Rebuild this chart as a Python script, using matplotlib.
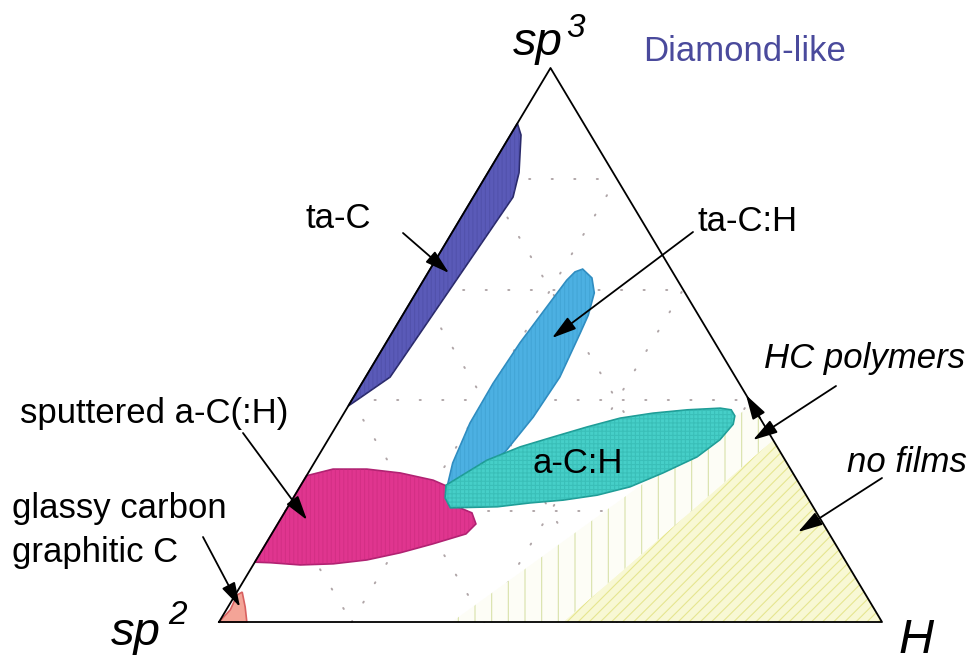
import numpy as np
import matplotlib.pyplot as plt
from matplotlib.patches import Polygon

plt.rcParams['font.family'] = ['Liberation Sans', 'DejaVu Sans']
plt.rcParams['hatch.linewidth'] = 0.8

# region outlines as ternary compositions (sp3 fraction, H fraction)
ta_c_sp3 = [0.90, 0.879, 0.811, 0.767, 0.442, 0.401, 0.39]
ta_c_h = [0.0, 0.016, 0.047, 0.060, 0.037, 0.008, 0.0]

ta_ch_sp3 = [0.637, 0.621, 0.594, 0.554, 0.522, 0.442, 0.370, 0.307, 0.265, 0.244,
             0.287, 0.359, 0.431, 0.504, 0.569, 0.617, 0.632]
ta_ch_h = [0.230, 0.252, 0.269, 0.280, 0.284, 0.293, 0.289, 0.278, 0.253, 0.222,
           0.209, 0.199, 0.198, 0.202, 0.210, 0.216, 0.221]

a_ch_sp3 = [0.247, 0.292, 0.316, 0.334, 0.352, 0.368, 0.377, 0.383, 0.386, 0.383,
            0.372, 0.357, 0.329, 0.298, 0.269, 0.244, 0.229, 0.220, 0.215, 0.208,
            0.206, 0.224]
a_ch_h = [0.219, 0.258, 0.296, 0.337, 0.379, 0.421, 0.466, 0.515, 0.563, 0.581,
          0.592, 0.597, 0.591, 0.572, 0.535, 0.498, 0.456, 0.409, 0.362, 0.316,
          0.246, 0.229]

sput_sp3 = [0.108, 0.264, 0.276, 0.276, 0.269, 0.256, 0.244, 0.215, 0.197, 0.177,
            0.159, 0.141, 0.125, 0.112, 0.105, 0.103, 0.107]
sput_h = [0.0, 0.0, 0.034, 0.085, 0.139, 0.195, 0.224, 0.238, 0.283, 0.299,
          0.293, 0.252, 0.211, 0.167, 0.120, 0.071, 0.024]

glassy_sp3 = [0.0, 0.022, 0.049, 0.054, 0.027, 0.0]
glassy_h = [0.0, 0.006, 0.003, 0.008, 0.026, 0.042]

nofilm_sp3 = [0.0, 0.0, 0.3285]
nofilm_h = [0.519, 1.0, 0.6715]

hcpoly_sp3 = [0.0, 0.0, 0.3285, 0.392]
hcpoly_h = [0.351, 0.519, 0.6715, 0.608]

grid_levels = [0.2, 0.4, 0.6, 0.8]

W_PX, H_PX = 971, 663


def to_xy(sp3, h):
    sp3 = np.asarray(sp3, dtype=float)
    h = np.asarray(h, dtype=float)
    return np.column_stack([h + sp3 / 2, sp3])


fig = plt.figure(figsize=(W_PX / 100, H_PX / 100), dpi=100)
ax = fig.add_axes([0, 0, 1, 1])
ax.set_xlim(-0.3303, 1.1342)
ax.set_ylim(-0.074, 1.1227)
ax.axis('off')

# faint dotted composition grid
for v in grid_levels:
    for seg in ([[v, v], [0, 1 - v]], [[0, 1 - v], [v, v]], [[1 - v, 0], [0, 1 - v]]):
        p = to_xy(seg[0], seg[1])
        ax.plot(p[:, 0], p[:, 1], color='#b0a6a8', lw=1.4,
                linestyle=(0, (0.6, 11)), dash_capstyle='round', zorder=1)

# no films / HC polymers
ax.add_patch(Polygon(to_xy(nofilm_sp3, nofilm_h), closed=True, facecolor='#f8f8d4',
                     edgecolor='none', zorder=2))
ax.add_patch(Polygon(to_xy(nofilm_sp3, nofilm_h), closed=True, facecolor='none',
                     edgecolor='#e6e690', hatch='///', lw=0, zorder=2))
ax.add_patch(Polygon(to_xy(hcpoly_sp3, hcpoly_h), closed=True, facecolor='#fdfdf6',
                     edgecolor='#d8e2aa', hatch='|', lw=0, zorder=2))


def region(sp3, h, face, edge, hatch_col, hatch, z):
    xy = to_xy(sp3, h)
    ax.add_patch(Polygon(xy, closed=True, facecolor=face, edgecolor=edge, lw=1.2, zorder=z))
    ax.add_patch(Polygon(xy, closed=True, facecolor='none', edgecolor=hatch_col,
                         hatch=hatch, lw=0, alpha=0.5, zorder=z))


region(ta_c_sp3, ta_c_h, '#5a5ab8', '#2a2a6a', '#4a4aa0', '||||', 3)
region(sput_sp3, sput_h, '#e0358f', '#b02272', '#c82a7c', '||||', 3)
region(ta_ch_sp3, ta_ch_h, '#4cb0e2', '#2f8cc0', '#3a9ccc', '||||', 3)
region(a_ch_sp3, a_ch_h, '#46cfc8', '#1e9c96', '#2fb0aa', '++++', 4)
region(glassy_sp3, glassy_h, '#f4a497', '#d86060', '#f4a497', '', 4)

# triangle outline
tri = to_xy([0, 1, 0, 0], [0, 0, 1, 0])
ax.plot(tri[:, 0], tri[:, 1], color='black', lw=1.3, zorder=5)


def label(s, x, y, size=25, **kw):
    ax.annotate(s, xy=(x, H_PX - y), xycoords='figure pixels', ha='left',
                va='baseline', fontsize=size, zorder=7, **kw)


def arrow(x0, y0, x1, y1):
    ax.annotate('', xy=(x1, H_PX - y1), xytext=(x0, H_PX - y0),
                xycoords='figure pixels', textcoords='figure pixels',
                arrowprops=dict(arrowstyle='-|>,head_length=0.75,head_width=0.22',
                                color='black', lw=1.3, shrinkA=0, shrinkB=0,
                                mutation_scale=20), zorder=6)


# corner labels
label('sp', 513, 55, size=34, style='italic')
label('3', 566, 37, size=24, style='italic')
label('sp', 111, 645, size=34, style='italic')
label('2', 168, 624, size=24, style='italic')
label('H', 898, 653, size=35, style='italic')

label('Diamond-like', 643, 61, size=25, color='#4a4a9c')
label('ta-C', 306, 228)
label('ta-C:H', 697, 231)
label('a-C:H', 533, 473)
label('sputtered a-C(:H)', 20, 423)
label('glassy carbon', 12, 518)
label('graphitic C', 12, 562)
label('HC polymers', 764, 368, style='italic')
label('no films', 847, 472, style='italic')

arrow(403, 233, 449, 273)
arrow(693, 232, 552, 338)
arrow(243, 433, 307, 520)
arrow(203, 537, 240, 607)
arrow(836, 386, 753, 440)
arrow(882, 478, 798, 532)
arrow(760, 418, 746, 395)

plt.savefig('out.png', dpi=100)
